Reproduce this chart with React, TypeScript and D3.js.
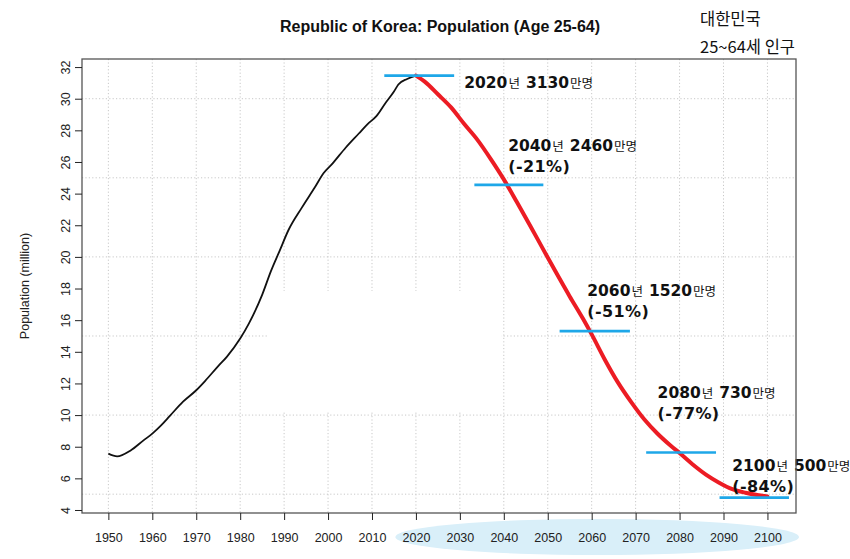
import { useEffect, useRef } from "react"
import * as d3 from "d3"

// observed (1950-2020) and projected (2020-2100) population, age 25-64, millions
const pastYears = [1950, 1952, 1955, 1958, 1960, 1962, 1964, 1967, 1970, 1972, 1975, 1977, 1980, 1982, 1985, 1987, 1989, 1991, 1994, 1997, 1999, 2001, 2004, 2007, 2009, 2011, 2013, 2015, 2016, 2018, 2020]
const pastValues = [7.56, 7.39, 7.75, 8.4, 8.83, 9.35, 9.95, 10.85, 11.57, 12.15, 13.1, 13.7, 14.84, 15.8, 17.6, 19.1, 20.4, 21.7, 23.1, 24.4, 25.3, 25.9, 26.9, 27.8, 28.4, 28.9, 29.7, 30.45, 30.9, 31.25, 31.46]
const projYears = [2020, 2022, 2025, 2028, 2031, 2034, 2037, 2040, 2043, 2046, 2049, 2052, 2055, 2058, 2060, 2063, 2066, 2069, 2072, 2075, 2078, 2080, 2083, 2086, 2089, 2092, 2095, 2098, 2100]
const projValues = [31.46, 31.08, 30.28, 29.45, 28.4, 27.4, 26.2, 24.9, 23.45, 21.97, 20.46, 18.96, 17.5, 16.1, 15.1, 13.5, 12.05, 10.82, 9.72, 8.82, 8.06, 7.6, 6.88, 6.24, 5.73, 5.32, 5.09, 4.93, 4.86]

// highlighted milestones
const markYears = ["2020", "2040", "2060", "2080", "2100"]
const markPop = ["3130", "2460", "1520", "730", "500"]
const markPct = ["", "(-21%)", "(-51%)", "(-77%)", "(-84%)"]
const markLevel = [31.46, 24.55, 15.31, 7.63, 4.78]
const markFrom = [2012.8, 2033.3, 2052.7, 2072.4, 2089.1]
const markTo = [2028.7, 2049.0, 2068.7, 2088.3, 2104.9]
const labelYear = [2031, 2041, 2059, 2075, 2092]
const labelLevel = [30.66, 26.68, 17.5, 11.05, 6.45]

const xTicks = d3.range(1950, 2101, 10)
const yTicks = d3.range(4, 33, 2)
const gridY = [5, 10, 15, 20, 25, 30]

const W = 850, H = 559
const left = 82, right = 796, top = 59, bottom = 513

export default function App() {
  const ref = useRef<SVGSVGElement>(null)

  useEffect(() => {
    const svg = d3.select(ref.current!)
    svg.selectAll("*").remove()

    const x = d3.scaleLinear().domain([1944, 2106.5]).range([left, right])
    const y = d3.scaleLinear().domain([3.81, 32.51]).range([bottom, top])

    // highlight under the projected years
    svg.append("ellipse")
      .attr("cx", (x(2016) + right) / 2).attr("cy", 537)
      .attr("rx", (right - x(2016)) / 2 + 3).attr("ry", 18)
      .attr("fill", "#d9eff9")

    const grid = svg.append("g").attr("stroke", "#c8c8c8").attr("stroke-dasharray", "1.2,2.2").attr("stroke-width", 1)
    xTicks.forEach(t => {
      grid.append("line").attr("x1", x(t)).attr("x2", x(t)).attr("y1", top).attr("y2", bottom)
    })
    gridY.forEach(t => {
      grid.append("line").attr("x1", left).attr("x2", right).attr("y1", y(t)).attr("y2", y(t))
    })
    // blanked area of the original picture
    svg.append("rect").attr("x", x(1986.5)).attr("y", 291).attr("width", x(2039.5) - x(1986.5)).attr("height", 121)
      .attr("fill", "#fff")

    const pastLine = d3.line<number>().x((_, i) => x(pastYears[i])).y(d => y(d)).curve(d3.curveMonotoneX)
    const projLine = d3.line<number>().x((_, i) => x(projYears[i])).y(d => y(d)).curve(d3.curveMonotoneX)

    svg.append("path").attr("d", pastLine(pastValues) || "")
      .attr("fill", "none").attr("stroke", "#111").attr("stroke-width", 1.8).attr("stroke-linejoin", "round")
    svg.append("path").attr("d", projLine(projValues) || "")
      .attr("fill", "none").attr("stroke", "#ec1c24").attr("stroke-width", 4).attr("stroke-linecap", "round")

    markLevel.forEach((v, i) => {
      svg.append("line")
        .attr("x1", x(markFrom[i])).attr("x2", x(markTo[i]))
        .attr("y1", y(v)).attr("y2", y(v))
        .attr("stroke", "#1ea7e8").attr("stroke-width", 2.6)
    })

    const font = "'Noto Sans CJK KR', 'Noto Sans', sans-serif"
    const numFont = "'DejaVu Sans', Verdana, sans-serif"
    markYears.forEach((yr, i) => {
      const t = svg.append("text")
        .attr("x", x(labelYear[i])).attr("y", y(labelLevel[i]))
        .attr("fill", "#111")
      t.append("tspan").attr("font-family", numFont).attr("font-size", 15.5).attr("font-weight", 700).text(yr)
      t.append("tspan").attr("dx", 1).attr("font-family", font).attr("font-size", 12.5).text("년")
      t.append("tspan").attr("dx", 6).attr("font-family", numFont).attr("font-size", 15.5).attr("font-weight", 700).text(markPop[i])
      t.append("tspan").attr("dx", 1).attr("font-family", font).attr("font-size", 12.5).text("만명")
      if (markPct[i]) {
        svg.append("text")
          .attr("x", x(labelYear[i])).attr("y", y(labelLevel[i]) + 21)
          .attr("font-family", numFont).attr("font-size", 16).attr("font-weight", 700)
          .attr("letter-spacing", 0.4).attr("fill", "#111").text(markPct[i])
      }
    })

    // frame and axes
    svg.append("rect").attr("x", left).attr("y", top)
      .attr("width", right - left).attr("height", bottom - top)
      .attr("fill", "none").attr("stroke", "#555").attr("stroke-width", 1.3)

    const axFont = "'Liberation Sans', Arial, sans-serif"
    const xa = svg.append("g").attr("transform", `translate(0,${bottom})`)
      .call(d3.axisBottom(x).tickValues(xTicks).tickSize(7).tickPadding(13).tickFormat(d3.format("d")))
    xa.select(".domain").remove()
    xa.selectAll("line").attr("stroke", "#222")
    xa.selectAll("text").attr("font-family", axFont).attr("font-size", 12.5).attr("fill", "#222")

    const ya = svg.append("g").attr("transform", `translate(${left},0)`)
      .call(d3.axisLeft(y).tickValues(yTicks).tickSize(7).tickFormat(d3.format("d")))
    ya.select(".domain").remove()
    ya.selectAll("line").attr("stroke", "#222")
    ya.selectAll("text").attr("font-family", axFont).attr("font-size", 12.5).attr("fill", "#222")
      .attr("text-anchor", "middle").attr("dy", null)
      .attr("transform", "translate(-16,0) rotate(-90)").attr("x", 0).attr("y", 0)
      .attr("dominant-baseline", "central")

    svg.append("text")
      .attr("transform", `translate(29,${(top + bottom) / 2}) rotate(-90)`)
      .attr("text-anchor", "middle").attr("font-family", axFont).attr("font-size", 12.5)
      .attr("fill", "#222").text("Population (million)")

    svg.append("text").attr("x", 440).attr("y", 32).attr("text-anchor", "middle")
      .attr("font-family", axFont).attr("font-size", 16).attr("font-weight", 700)
      .attr("fill", "#111").text("Republic of Korea: Population (Age 25-64)")

    svg.append("text").attr("x", 700).attr("y", 25)
      .attr("font-family", font).attr("font-size", 16.5).attr("fill", "#111").text("대한민국")
    svg.append("text").attr("x", 700).attr("y", 53)
      .attr("font-family", font).attr("font-size", 16.5).attr("fill", "#111").text("25~64세 인구")
  }, [])

  return (
    <div style={{ position: "absolute", left: 0, top: 0, background: "#fff" }}>
      <svg ref={ref} width={W} height={H} style={{ display: "block" }} />
    </div>
  )
}
